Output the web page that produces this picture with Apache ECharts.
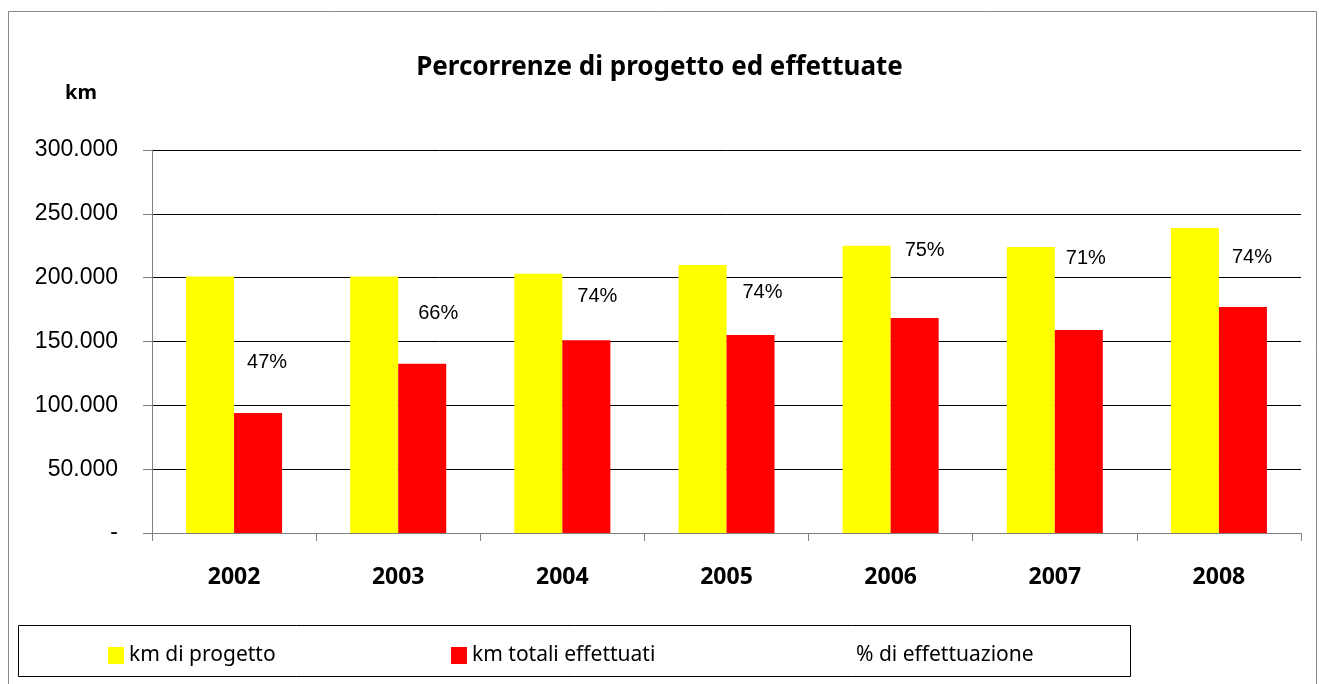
<!DOCTYPE html>
<html>
<head>
<meta charset="utf-8">
<style>
  html, body { margin: 0; padding: 0; background: #fff; }
  #chart { width: 1319px; height: 684px; }
</style>
<script src="https://cdn.jsdelivr.net/npm/echarts@6/dist/echarts.min.js"></script>
</head>
<body>
<div id="chart"></div>
<script>
// dati
var years = ["2002", "2003", "2004", "2005", "2006", "2007", "2008"];
var kmProgetto = [201000, 201000, 203000, 210000, 225000, 224000, 239000];
var kmEffettuati = [94000, 132500, 151000, 155000, 168500, 159000, 177000];
var percEffettuazione = [47, 66, 74, 74, 75, 71, 74];
var yTicks = [0, 50000, 100000, 150000, 200000, 250000, 300000];

// spostamento delle etichette percentuali (posizionate a mano nell'originale)
var labelShift = [[33, 9], [40, 33], [35, 47], [36, 43], [34, 5], [31, -3], [33, 8]];

function fmtKm(v) {
  if (v === 0) return "-";
  return String(v).replace(/\B(?=(\d{3})+(?!\d))/g, ".");
}

var chart = echarts.init(document.getElementById("chart"));

var legendText = { fontFamily: "Noto Sans", fontSize: 21, color: "#000" };

var option = {
  animation: false,
  backgroundColor: "#fff",
  title: {
    text: "Percorrenze di progetto ed effettuate",
    left: "center",
    top: 50,
    textStyle: { fontFamily: "Noto Sans", fontWeight: "bold", fontSize: 26, color: "#000" }
  },
  graphic: [
    {
      type: "rect",
      shape: { x: 8.5, y: 11.5, width: 1308, height: 700 },
      style: { fill: null, stroke: "#888", lineWidth: 1 },
      silent: true
    },
    {
      type: "rect",
      shape: { x: 18.5, y: 625.5, width: 1112, height: 51 },
      style: { fill: null, stroke: "#000", lineWidth: 1 },
      silent: true
    },
    {
      type: "text",
      left: 65,
      top: 83,
      style: { text: "km", fontFamily: "Noto Sans", fontWeight: "bold", fontSize: 20, fill: "#000" }
    }
  ],
  legend: [
    {
      data: [{ name: "km di progetto", icon: "rect" }],
      left: 103, top: 640,
      itemWidth: 16, itemHeight: 17, itemGap: 8,
      textStyle: legendText
    },
    {
      data: [{ name: "km totali effettuati", icon: "rect" }],
      left: 446, top: 640,
      itemWidth: 16, itemHeight: 17, itemGap: 8,
      textStyle: legendText
    },
    {
      data: ["% di effettuazione"],
      left: 830, top: 640,
      itemWidth: 16, itemHeight: 17, itemGap: 8,
      textStyle: legendText
    }
  ],
  grid: { left: 152, right: 18, top: 150, bottom: 151, containLabel: false },
  xAxis: {
    type: "category",
    data: years,
    boundaryGap: true,
    axisLine: { lineStyle: { color: "#808080", width: 1 } },
    axisTick: { show: true, length: 8, lineStyle: { color: "#808080" }, alignWithLabel: false },
    axisLabel: {
      margin: 33,
      fontFamily: "Noto Sans",
      fontWeight: "bold",
      fontSize: 23,
      color: "#000"
    }
  },
  yAxis: [
    {
      type: "value",
      min: yTicks[0],
      max: yTicks[yTicks.length - 1],
      interval: yTicks[1] - yTicks[0],
      axisLine: { show: true, lineStyle: { color: "#808080" } },
      axisTick: { show: true, length: 9, lineStyle: { color: "#808080" } },
      splitLine: { show: true, lineStyle: { color: "#000", width: 1 } },
      axisLabel: {
        margin: 34,
        formatter: fmtKm,
        fontFamily: "Liberation Sans",
        fontSize: 23,
        padding: [5, 0, 0, 0],
        color: "#000"
      }
    },
    {
      type: "value",
      min: 0,
      max: 100,
      show: false,
      splitLine: { show: false }
    }
  ],
  series: [
    {
      name: "km di progetto",
      type: "bar",
      data: kmProgetto,
      barWidth: 48,
      barGap: "0%",
      itemStyle: { color: "#FFFF00" }
    },
    {
      name: "km totali effettuati",
      type: "bar",
      data: kmEffettuati,
      barWidth: 48,
      barGap: "0%",
      itemStyle: { color: "#FF0000" }
    },
    {
      name: "% di effettuazione",
      type: "line",
      yAxisIndex: 1,
      symbol: "circle",
      symbolSize: 1,
      showSymbol: true,
      lineStyle: { width: 0, color: "rgba(0,0,0,0)" },
      itemStyle: { color: "rgba(0,0,0,0)" },
      data: percEffettuazione.map(function (p, i) {
        return {
          value: p,
          label: { offset: labelShift[i] }
        };
      }),
      label: {
        show: true,
        position: "inside",
        formatter: "{c}%",
        fontFamily: "Liberation Sans",
        fontSize: 20,
        color: "#000"
      },
      z: 5
    }
  ]
};

chart.setOption(option);
</script>
</body>
</html>
